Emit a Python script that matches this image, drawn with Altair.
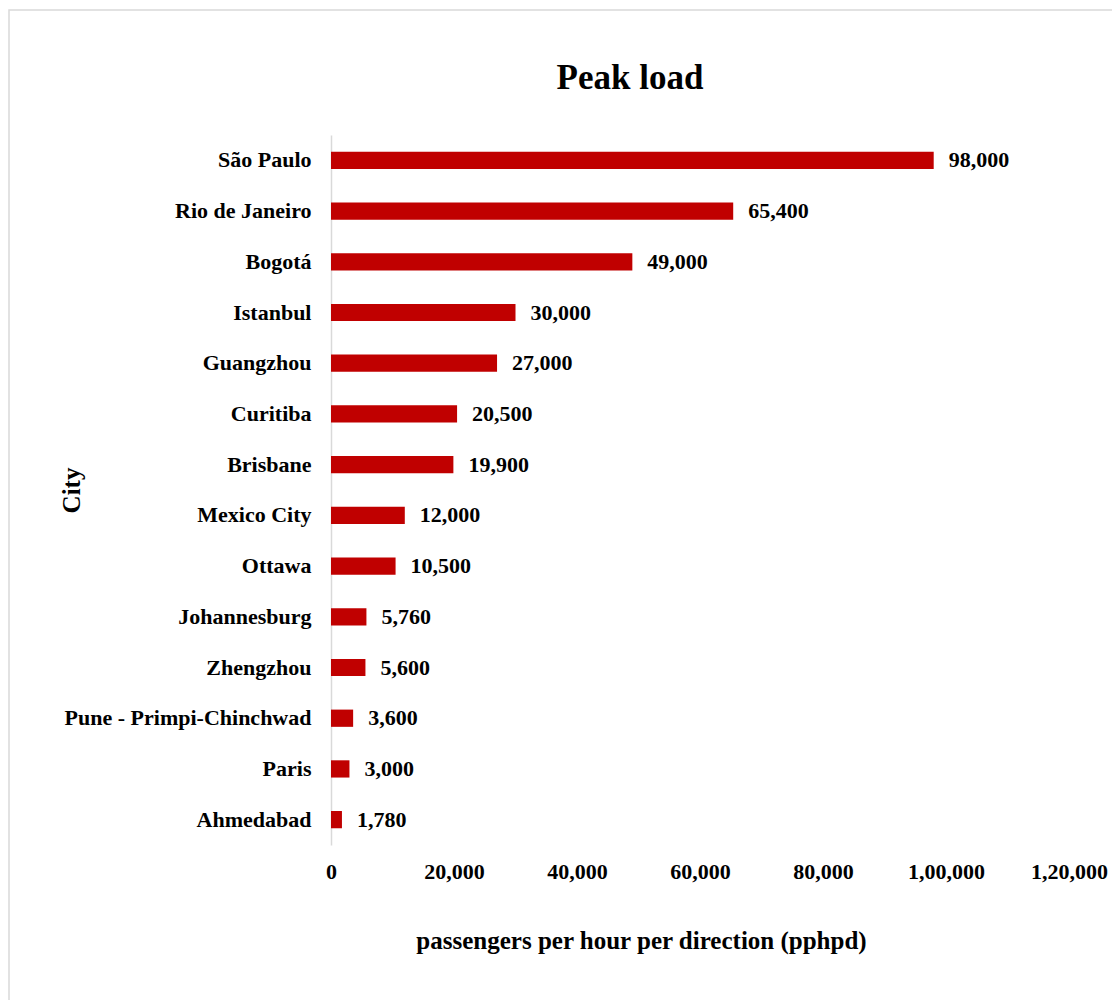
import altair as alt
import pandas as pd

cities = ["São Paulo", "Rio de Janeiro", "Bogotá", "Istanbul", "Guangzhou", "Curitiba",
          "Brisbane", "Mexico City", "Ottawa", "Johannesburg", "Zhengzhou",
          "Pune - Primpi-Chinchwad", "Paris", "Ahmedabad"]
peak_load = [98000, 65400, 49000, 30000, 27000, 20500, 19900, 12000, 10500, 5760, 5600, 3600, 3000, 1780]
tick_values = [0, 20000, 40000, 60000, 80000, 100000, 120000]
tick_labels = ["0", "20,000", "40,000", "60,000", "80,000", "1,00,000", "1,20,000"]

df = pd.DataFrame({"City": cities, "Load": peak_load})

FONT = "Liberation Serif"

label_expr = ""
for v, l in zip(tick_values, tick_labels):
    label_expr += f"datum.value == {v} ? '{l}' : "
label_expr += "format(datum.value, ',')"

x_enc = alt.X("Load:Q",
              scale=alt.Scale(domain=[0, 120000], nice=False),
              axis=alt.Axis(values=tick_values, labelExpr=label_expr, grid=False, domain=False,
                            ticks=False, labelPadding=16, labelFontSize=22, labelFontWeight="bold",
                            labelFont=FONT, labelColor="black", labelFlush=False, labelOverlap=False,
                            labelBound=False,
                            title="passengers per hour per direction (pphpd)",
                            titleFont=FONT, titleFontSize=25, titleFontWeight="bold", titleColor="black",
                            titleX=310, titleY=95, titleBaseline="middle"))
y_enc = alt.Y("City:N", sort=cities,
              scale=alt.Scale(paddingInner=0.66, paddingOuter=0.33),
              axis=alt.Axis(grid=False, ticks=False, domain=True, domainColor="#d9d9d9", domainWidth=1.5,
                            labelPadding=20, labelFontSize=22, labelFontWeight="bold", labelFont=FONT,
                            labelColor="black", labelLimit=400, title="City", titleFont=FONT,
                            titleFontSize=25, titleFontWeight="bold", titleColor="black", titleAngle=-90,
                            titleX=-260, titleY=355, titleBaseline="middle", titleAlign="center"))

bars = alt.Chart(df).mark_bar(color="#C00000").encode(x=x_enc, y=y_enc)
labels = alt.Chart(df).mark_text(align="left", baseline="middle", dx=15, fontSize=22,
                                 fontWeight="bold", font=FONT, color="black").encode(
    x="Load:Q", y=alt.Y("City:N", sort=cities), text=alt.Text("Load:Q", format=","))

frame = alt.Chart(pd.DataFrame({"a": [0]})).mark_rect(
    fill=None, stroke="#d9d9d9", strokeWidth=1.5, clip=False).encode(
    x=alt.value(-322), x2=alt.value(800), y=alt.value(-125), y2=alt.value(900))

chart = alt.layer(frame, bars, labels).properties(
    width=738, height=710,
    title=alt.TitleParams("Peak load", font=FONT, fontSize=35, fontWeight="bold", color="black",
                          anchor="middle", frame="group", dx=-70, offset=35, dy=122),
    autosize=alt.AutoSizeParams(type="none"),
    padding={"left": 323, "top": 127, "right": 43, "bottom": 155},
).configure_view(stroke=None)

chart.save("out.html", embed_options={"renderer": "svg", "actions": False})
